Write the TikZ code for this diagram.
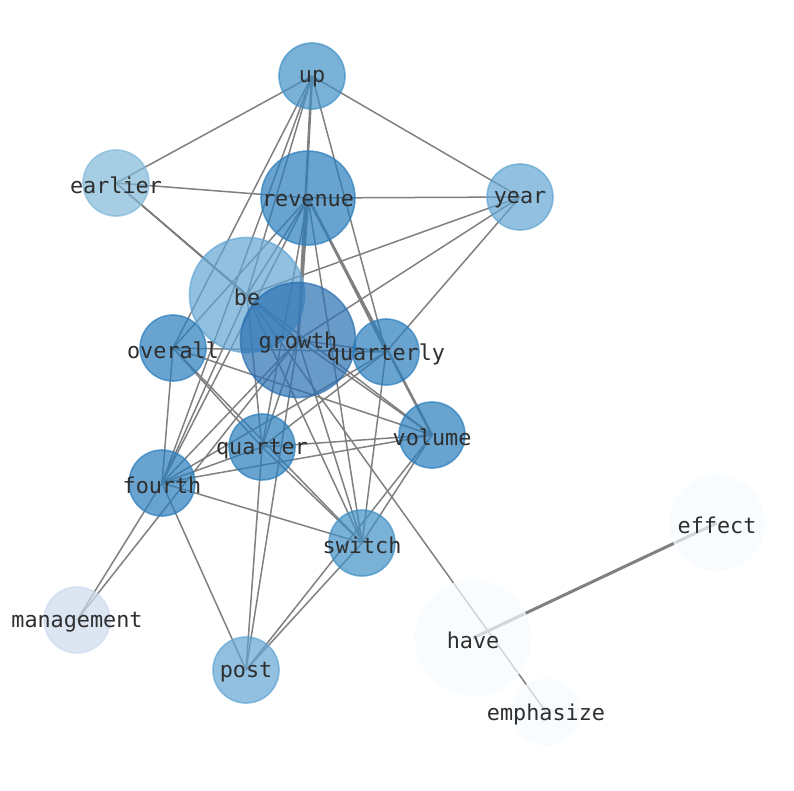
\documentclass[tikz,border=0pt]{standalone}
\usepackage{fontspec}
\usetikzlibrary{backgrounds}
\newfontfamily\wordfont{DejaVu Sans Mono}
\definecolor{bluesA}{HTML}{2A70B2}
\definecolor{bluesB}{HTML}{2A7EBC}
\definecolor{bluesC}{HTML}{4190C5}
\definecolor{bluesD}{HTML}{62A5D3}
\definecolor{bluesE}{HTML}{81B8D8}
\definecolor{bluesF}{HTML}{CDDBEE}
\definecolor{bluesG}{HTML}{F7FBFF}
\definecolor{linkgray}{HTML}{808080}
\definecolor{wordgray}{HTML}{2E2E2E}
\tikzset{
  word/.style={circle, inner sep=0pt, minimum size=66pt, line width=1.6pt,
    fill=#1, draw=#1, fill opacity=0.7, draw opacity=0.7},
  bigword/.style={word=#1, minimum size=94pt},
  hugeword/.style={word=#1, minimum size=115pt},
  wordtext/.style={text=wordgray, yshift=-2.5pt, font=\wordfont\fontsize{21.8}{22}\selectfont},
  link/.style={draw=linkgray, line width=1.5pt},
  heavylink/.style={draw=linkgray, line width=2.6pt},
}
\begin{document}
\begin{tikzpicture}[x=1pt,y=-1pt]
    \useasboundingbox (0,0) rectangle (794,790);
    \node[word=bluesC] (up) at (312,76) {};
    \node[word=bluesE] (earlier) at (116,183) {};
    \node[bigword=bluesB] (revenue) at (308,198) {};
    \node[word=bluesD] (year) at (520,197) {};
    \node[hugeword=bluesD] (be) at (247,295) {};
    \node[hugeword=bluesA] (growth) at (298,340) {};
    \node[word=bluesB] (overall) at (173,348) {};
    \node[word=bluesB] (quarterly) at (386,352) {};
    \node[word=bluesB] (volume) at (432,435) {};
    \node[word=bluesB] (quarter) at (262,447) {};
    \node[word=bluesB] (fourth) at (162,483) {};
    \node[word=bluesC] (switch) at (362,543) {};
    \node[bigword=bluesG] (effect) at (717,523) {};
    \node[word=bluesF] (management) at (77,620) {};
    \node[hugeword=bluesG] (have) at (473,638) {};
    \node[word=bluesD] (post) at (246,670) {};
    \node[word=bluesG] (emphasize) at (546,712) {};
    % links go under the circles
    \begin{scope}[on background layer]
    \path[link]
        (up.center)      edge (earlier.center)
                         edge (year.center)
                         edge (be.center)
                         edge (overall.center)
                         edge (fourth.center)
                         edge (quarterly.center)
        (earlier.center) edge (revenue.center)
                         edge[draw=black!70] (be.center)
                         edge (growth.center)
        (revenue.center) edge (year.center)
                         edge (be.center)
                         edge (overall.center)
                         edge (fourth.center)
                         edge (quarter.center)
                         edge (quarterly.center)
                         edge (switch.center)
        (year.center)    edge (be.center)
                         edge (growth.center)
                         edge (quarterly.center)
        (be.center)      edge (growth.center)
                         edge (fourth.center)
                         edge (quarter.center)
                         edge (switch.center)
                         edge (volume.center)
                         edge (emphasize.center)
        (growth.center)  edge (quarterly.center)
                         edge (quarter.center)
                         edge (fourth.center)
                         edge (switch.center)
                         edge (post.center)
                         edge (volume.center)
                         edge (management.center)
        (overall.center) edge (quarterly.center)
                         edge (volume.center)
                         edge (quarter.center)
                         edge (switch.center)
                         edge (fourth.center)
        (quarterly.center) edge (fourth.center)
                         edge (quarter.center)
                         edge (switch.center)
        (volume.center)  edge (quarter.center)
                         edge (fourth.center)
                         edge (switch.center)
                         edge (post.center)
        (quarter.center) edge (fourth.center)
                         edge (post.center)
                         edge (switch.center)
        (fourth.center)  edge (switch.center)
                         edge (post.center)
                         edge (management.center)
        (switch.center)  edge (post.center)
    ;
    \path[heavylink]
        (up.center)      edge (growth.center)
        (revenue.center) edge (growth.center)
                         edge (volume.center)
        (have.center)    edge[line width=3pt] (effect.center)
    ;
    \end{scope}
    % words on top of everything
    \foreach \w in {up,earlier,revenue,year,be,growth,overall,quarterly,volume,
                    quarter,fourth,switch,effect,management,have,post,emphasize}
        \node[wordtext] (\w-text) at (\w) {\w};
\end{tikzpicture}
\end{document}
